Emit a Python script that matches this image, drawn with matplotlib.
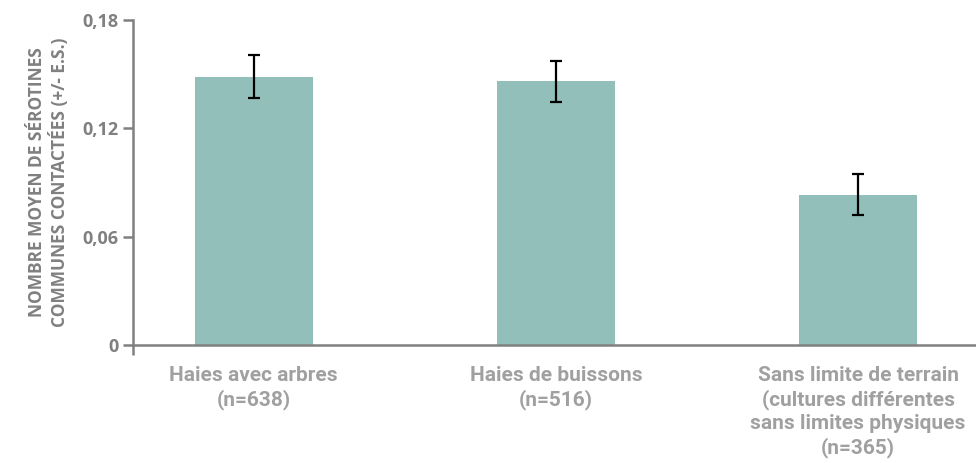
import numpy as np
import matplotlib.pyplot as plt

# données
categories = ["Haies avec arbres\n(n=638)",
              "Haies de buissons\n(n=516)",
              "Sans limite de terrain\n(cultures différentes\nsans limites physiques\n(n=365)"]
moyennes = [0.1486, 0.1459, 0.0831]
erreurs = [0.0121, 0.0113, 0.0113]
yticks = [0, 0.06, 0.12, 0.18]
ylabels = ["0", "0,06", "0,12", "0,18"]

fig = plt.figure(figsize=(9.76, 4.63), dpi=100)
ax = fig.add_axes([0.136, 0.255, 0.864, 0.702])

x = np.arange(len(categories))
ax.bar(x, moyennes, width=0.39, color="#93bfbb", zorder=2)
ax.errorbar(x, moyennes, yerr=erreurs, fmt="none", ecolor="black",
            elinewidth=1.6, capsize=4.5, capthick=1.6, zorder=3)

ax.set_xlim(-0.4, 2.39)
ax.set_ylim(0, 0.18)

grey = "#808080"
for s in ["top", "right"]:
    ax.spines[s].set_visible(False)
for s in ["left", "bottom"]:
    ax.spines[s].set_color(grey)
    ax.spines[s].set_linewidth(1.8)

ax.set_yticks(yticks)
ax.set_yticklabels(ylabels, fontsize=13, fontweight="bold", color=grey,
                   family="Open Sans")
ax.tick_params(axis="y", length=7, width=1.8, color=grey, pad=3)

ax.set_xticks(x)
ax.set_xticklabels(categories, fontsize=15, fontweight="bold", color="#a0a0a0",
                   family="Roboto", linespacing=1.28)
ax.tick_params(axis="x", length=0, pad=15)
ax.set_xticks([-0.4], minor=True)
ax.tick_params(axis="x", which="minor", length=7, width=1.8, color=grey)

ax.set_ylabel("NOMBRE MOYEN DE SÉROTINES\nCOMMUNES CONTACTÉES (+/- E.S.)",
              fontsize=12.5, fontweight="bold", color=grey, family="Open Sans",
              labelpad=10, linespacing=1.15)

fig.savefig("out.png", dpi=100)
